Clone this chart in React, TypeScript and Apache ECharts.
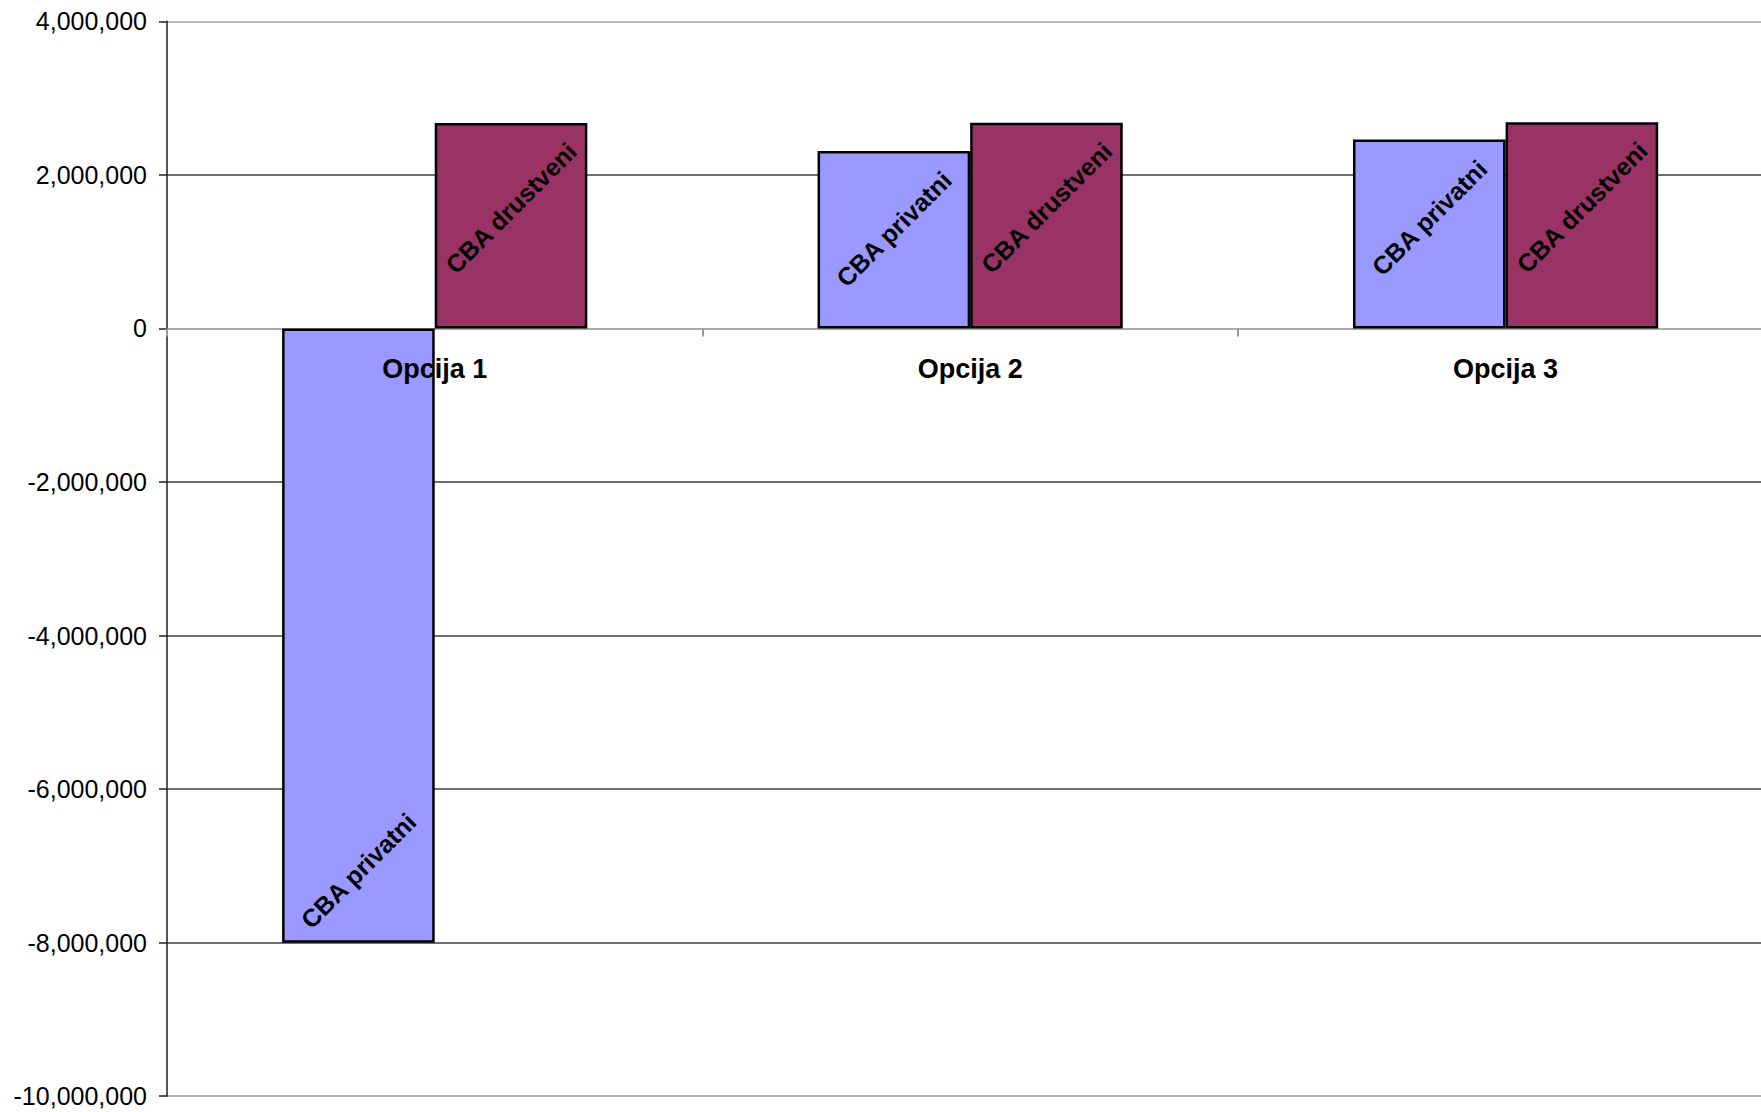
import React, { useEffect, useRef } from "react";
import * as echarts from "echarts";

const categories = ["Opcija 1", "Opcija 2", "Opcija 3"];
const seriesNames = ["CBA privatni", "CBA drustveni"];
const privatniValues = [-8000000, 2311000, 2459000];
const drustveniValues = [2676000, 2680000, 2685000];
const yMin = -10000000;
const yMax = 4000000;
const yStep = 2000000;

const FONT = "'Liberation Sans', Arial, sans-serif";

const GRID_TOP = 21.3;
const GRID_BOTTOM = 15.8;
const CHART_H = 1112;

export default function App() {
  const ref = useRef<HTMLDivElement>(null);

  useEffect(() => {
    if (!ref.current) return;
    const chart = echarts.init(ref.current, undefined, { renderer: "svg" });

    const plotH = CHART_H - GRID_TOP - GRID_BOTTOM;
    const zeroOffset = -(plotH * (0 - yMin)) / (yMax - yMin);

    const barLabel = (distance: number) => ({
      show: true,
      formatter: "{a}",
      position: "insideTop",
      distance,
      rotate: 45,
      align: "center",
      verticalAlign: "middle",
      color: "#000",
      fontFamily: FONT,
      fontWeight: "bold",
      fontSize: 25,
    });

    const privData = privatniValues.map((v) =>
      v < 0 ? { value: v, label: { position: "insideBottom", distance: 72 } } : v
    );
    const drusData = drustveniValues.map((v) =>
      v < 0 ? { value: v, label: { position: "insideBottom", distance: 80 } } : v
    );

    chart.setOption({
      animation: false,
      backgroundColor: "#ffffff",
      grid: {
        left: 167,
        top: GRID_TOP,
        bottom: GRID_BOTTOM,
        right: -12.3,
        containLabel: false,
        outerBoundsMode: "none",
      },
      xAxis: {
        type: "category",
        data: categories,
        offset: zeroOffset,
        z: 5,
        axisLine: { show: false, onZero: false },
        axisTick: { show: true, length: 8, lineStyle: { color: "#999999", width: 2 } },
        axisLabel: {
          color: "#000",
          fontFamily: FONT,
          fontWeight: "bold",
          fontSize: 27,
          margin: 27,
        },
        splitLine: { show: false },
      },
      yAxis: {
        type: "value",
        min: yMin,
        max: yMax,
        interval: yStep,
        axisLine: { show: true, lineStyle: { color: "#222222", width: 1.5 } },
        axisTick: { show: true, length: 8, lineStyle: { color: "#222222", width: 1.5 } },
        axisLabel: {
          color: "#000",
          fontFamily: FONT,
          fontSize: 25,
          margin: 20,
          formatter: (v: number) => v.toLocaleString("en-US"),
        },
        splitLine: {
          show: true,
          lineStyle: {
            color: ["#9a9a9a", "#404040", "#404040", "#404040", "#404040", "#8f8f8f", "#404040", "#a0a0a0"],
            width: 1.6,
          },
        },
      },
      series: [
        {
          name: seriesNames[0],
          type: "bar",
          data: privData,
          barGap: "0%",
          barCategoryGap: "43%",
          itemStyle: { color: "#9999FF", borderColor: "#000", borderWidth: 2.5 },
          label: barLabel(78),
        },
        {
          name: seriesNames[1],
          type: "bar",
          data: drusData,
          barGap: "0%",
          barCategoryGap: "43%",
          itemStyle: { color: "#993366", borderColor: "#000", borderWidth: 2.5 },
          label: barLabel(85),
        },
      ],
    });

    return () => chart.dispose();
  }, []);

  return (
    <div
      ref={ref}
      style={{ position: "fixed", left: 0, top: 0, width: 1761, height: 1112, background: "#fff" }}
    />
  );
}
